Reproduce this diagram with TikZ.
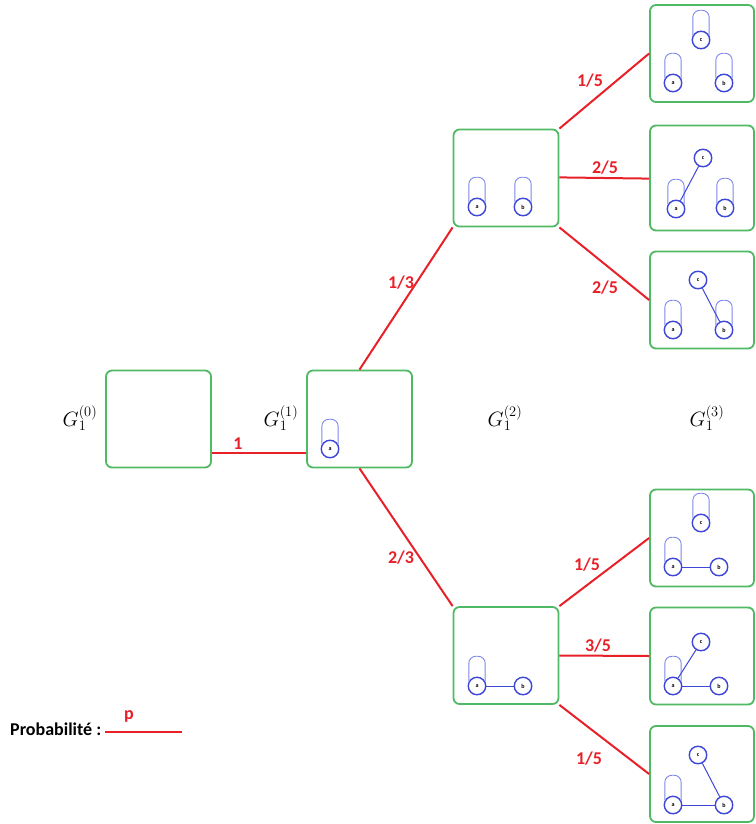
\documentclass[tikz,border=0pt]{standalone}
\usepackage{fontspec}
\newfontfamily\carl{Carlito}
\definecolor{boxgreen}{RGB}{80,185,100}
\definecolor{probred}{RGB}{232,32,40}
\definecolor{vblue}{RGB}{60,70,215}
\definecolor{lblue}{RGB}{125,135,235}
\begin{document}
\begin{tikzpicture}[x=1pt,y=-1pt,
  box/.style={draw=boxgreen, line width=1.8pt, rounded corners=6pt, minimum width=105pt, minimum height=97pt, inner sep=0pt},
  prob/.style={draw=probred, line width=2pt},
  plabel/.style={text=probred, font=\carl\bfseries\fontsize{18}{21}\selectfont, inner sep=0pt},
  vtx/.style={circle, draw=vblue, line width=1.4pt, fill=white, minimum size=17.5pt, inner sep=0pt, font=\carl\bfseries\fontsize{6}{7}\selectfont},
  vedge/.style={draw=vblue, line width=1pt},
  vloop/.style={draw=lblue, line width=0.9pt, rounded corners=7pt},
  glabel/.style={inner sep=0pt, font=\fontsize{21}{24}\selectfont}
]
\useasboundingbox (0,0) rectangle (755,824);
% boxes
\node[box] (g0) at (158.5,419) {};
\node[box] (g1) at (359.5,419) {};
\node[box] (t2) at (506,178) {};
\node[box] (u2) at (506,655.5) {};
\node[box, minimum width=104pt] (b1) at (702,53.5) {};
\node[box, minimum width=104pt, minimum height=105pt] (b2) at (702,178) {};
\node[box, minimum width=104pt] (b3) at (702,300) {};
\node[box, minimum width=104pt] (b4) at (702,538) {};
\node[box, minimum width=104pt] (b5) at (702,656) {};
\node[box, minimum width=104pt, minimum height=96pt] (b6) at (702,774) {};

% probability edges
\draw[prob] ([yshift=-34pt]g0.east) -- ([yshift=-34pt]g1.west);
\draw[prob] (g1.north) -- (t2.south west);
\draw[prob] (g1.south) -- (u2.north west);
\draw[prob] (t2.north east) -- (b1.west);
\draw[prob] ([yshift=0.6pt]t2.east) -- ([yshift=-0.6pt]b2.west);
\draw[prob] (t2.south east) -- (b3.west);
\draw[prob] (u2.north east) -- (b4.west);
\draw[prob] (u2.east) -- (b5.west);
\draw[prob] (u2.south east) -- (b6.west);

% probability labels
\node[plabel] (p01) at (238,444) {1};
\node[plabel] (p12a) at (401,283) {1/3};
\node[plabel] (p12b) at (401,558) {2/3};
\node[plabel] (p23a) at (590,81) {1/5};
\node[plabel] (p23b) at (605,168) {2/5};
\node[plabel] (p23c) at (605,288) {2/5};
\node[plabel] (p23d) at (587,565) {1/5};
\node[plabel] (p23e) at (598,646) {3/5};
\node[plabel] (p23f) at (589,759) {1/5};

% generation labels
\node[glabel] (l0) at (80,418) {$G_1^{(0)}$};
\node[glabel] (l1) at (281,418) {$G_1^{(1)}$};
\node[glabel] (l2) at (505,418) {$G_1^{(2)}$};
\node[glabel] (l3) at (707,418) {$G_1^{(3)}$};

% G1 box
\node[vtx] (g1a) at (330,449) {a};
\draw[vloop] (g1a.150) -- ++(0,-25) -| (g1a.30);

% top level-2 box
\node[vtx] (t2a) at (477,207) {a};
\node[vtx] (t2b) at (523,207) {b};
\draw[vloop] (t2a.150) -- ++(0,-25) -| (t2a.30);
\draw[vloop] (t2b.150) -- ++(0,-25) -| (t2b.30);

% bottom level-2 box
\node[vtx] (u2a) at (477,686) {a};
\node[vtx] (u2b) at (523,686) {b};
\draw[vloop] (u2a.150) -- ++(0,-25) -| (u2a.30);
\draw[vedge] (u2a) -- (u2b);

% b1
\node[vtx] (b1c) at (701,40) {c};
\node[vtx] (b1a) at (673,83) {a};
\node[vtx] (b1b) at (724,83) {b};
\draw[vloop] (b1c.150) -- ++(0,-25) -| (b1c.30);
\draw[vloop] (b1a.150) -- ++(0,-25) -| (b1a.30);
\draw[vloop] (b1b.150) -- ++(0,-25) -| (b1b.30);

% b2
\node[vtx] (b2c) at (703,158) {c};
\node[vtx] (b2a) at (676,209) {a};
\node[vtx] (b2b) at (725,208) {b};
\draw[vloop] (b2a.150) -- ++(0,-25) -| (b2a.30);
\draw[vloop] (b2b.150) -- ++(0,-25) -| (b2b.30);
\draw[vedge] (b2a) -- (b2c);

% b3
\node[vtx] (b3c) at (698,280) {c};
\node[vtx] (b3a) at (673,330) {a};
\node[vtx] (b3b) at (724,330) {b};
\draw[vloop] (b3a.150) -- ++(0,-25) -| (b3a.30);
\draw[vloop] (b3b.150) -- ++(0,-25) -| (b3b.30);
\draw[vedge] (b3c) -- (b3b);

% b4
\node[vtx] (b4c) at (701,523) {c};
\node[vtx] (b4a) at (673,567) {a};
\node[vtx] (b4b) at (719,567) {b};
\draw[vloop] (b4c.150) -- ++(0,-25) -| (b4c.30);
\draw[vloop] (b4a.150) -- ++(0,-25) -| (b4a.30);
\draw[vedge] (b4a) -- (b4b);

% b5
\node[vtx] (b5c) at (701,642) {c};
\node[vtx] (b5a) at (673,686) {a};
\node[vtx] (b5b) at (719,686) {b};
\draw[vloop] (b5a.150) -- ++(0,-25) -| (b5a.30);
\draw[vedge] (b5a) -- (b5b);
\draw[vedge] (b5a) -- (b5c);

% b6
\node[vtx] (b6c) at (698,755) {c};
\node[vtx] (b6a) at (673,805) {a};
\node[vtx] (b6b) at (724,805) {b};
\draw[vloop] (b6a.150) -- ++(0,-25) -| (b6a.30);
\draw[vedge] (b6a) -- (b6b);
\draw[vedge] (b6c) -- (b6b);

% legend
\node[anchor=west, inner sep=0pt, font=\carl\bfseries\fontsize{18}{21}\selectfont] (leg) at (10,729) {Probabilité :};
\coordinate (legA) at (105,732);
\coordinate (legB) at (182,732);
\draw[prob] (legA) -- (legB);
\node[plabel] (legp) at (129,716) {p};
\end{tikzpicture}
\end{document}
